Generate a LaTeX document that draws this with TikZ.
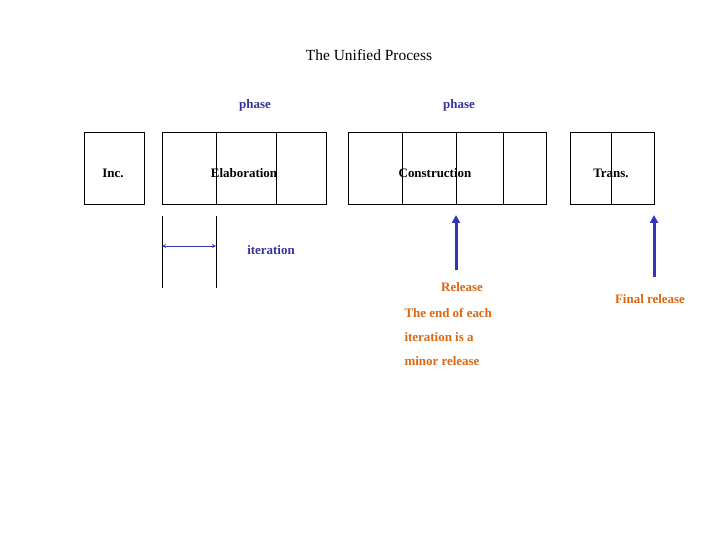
\documentclass[tikz,border=0pt]{standalone}
\usepackage{fontspec}
\setmainfont{Liberation Serif}
\usetikzlibrary{arrows.meta}
\definecolor{phaseblue}{RGB}{51,51,153}
\definecolor{arrowblue}{RGB}{51,51,187}
\definecolor{relorange}{RGB}{221,102,17}
\tikzstyle{cell} = [draw=black, thick]
\tikzstyle{lbl} = [font=\bfseries\fontsize{13}{15}\selectfont]
\tikzstyle{note} = [lbl, text=relorange]
\tikzstyle{release} = [arrowblue, line width=3bp, -{Triangle[length=8bp,width=8bp]}]
\begin{document}
\begin{tikzpicture}[x=1bp,y=-1bp]
  \useasboundingbox (0,0) rectangle (720,540);
  % phase boxes
  \draw[cell] (84,132) rectangle (144,204);
  \draw[cell] (162,132) rectangle (326,204);
  \draw[cell] (348,132) rectangle (546,204);
  \draw[cell] (570,132) rectangle (654,204);
  \foreach \x in {216,276,402,456,503,611}
    \draw[cell] (\x,132) -- (\x,204);
  \node[lbl] (inc) at (113,173) {Inc.};
  \node[lbl] (elab) at (244,173) {Elaboration};
  \node[lbl] (cons) at (435,173) {Construction};
  \node[lbl] (trans) at (611,173) {Trans.};
  \node[font=\fontsize{15.5}{18}\selectfont] (title) at (369,55) {The Unified Process};
  \node[lbl, text=phaseblue] (ph1) at (255,105) {phase};
  \node[lbl, text=phaseblue] (ph2) at (459,105) {phase};
  % one iteration
  \coordinate (il) at (162,246);
  \coordinate (ir) at (216,246);
  \draw[cell] (162,216) -- (162,288);
  \draw[cell] (216,216) -- (216,288);
  \draw[arrowblue, thick, <->, >=stealth] (il) -- (ir);
  \node[lbl, text=phaseblue] (iter) at (271,250) {iteration};
  % releases
  \node[note] (rel) at (462,287) {Release};
  \node[note, align=left, anchor=north west, font=\bfseries\fontsize{13}{24}\selectfont] (minor) at (401,305) {The end of each\\iteration is a\\minor release};
  \node[note] (final) at (650,299) {Final release};
  \coordinate (cbot) at (456,270);
  \coordinate (ctop) at (456,215);
  \coordinate (tbot) at (654,277);
  \coordinate (ttop) at (654,215);
  \draw[release] (cbot) -- (ctop);
  \draw[release] (tbot) -- (ttop);
\end{tikzpicture}
\end{document}
